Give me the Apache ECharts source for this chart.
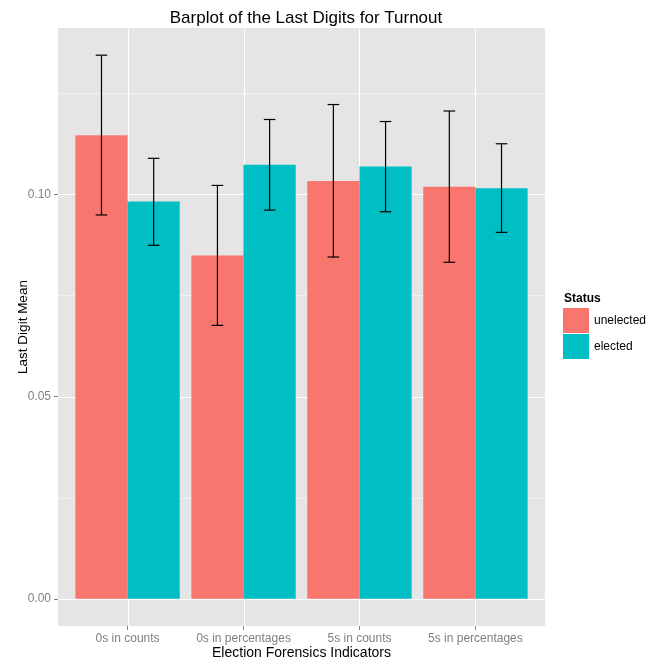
<!DOCTYPE html>
<html>
<head>
<meta charset="utf-8">
<script src="https://cdn.jsdelivr.net/npm/echarts@6/dist/echarts.min.js"></script>
<style>
  html, body { margin: 0; padding: 0; background: #ffffff; }
  #chart { width: 646px; height: 666px; }
</style>
</head>
<body>
<div id="chart"></div>
<script>
// Indicator groups along the x axis
const categories = ['0s in counts', '0s in percentages', '5s in counts', '5s in percentages'];

// Mean of last digits with lower / upper interval bounds, per status
const unelectedMean  = [0.1146, 0.0849, 0.1033, 0.1019];
const unelectedLower = [0.0949, 0.0676, 0.0845, 0.0832];
const unelectedUpper = [0.1344, 0.1022, 0.1222, 0.1206];

const electedMean  = [0.0982, 0.1073, 0.1069, 0.1015];
const electedLower = [0.0874, 0.0961, 0.0957, 0.0906];
const electedUpper = [0.1089, 0.1185, 0.1180, 0.1125];

// Axis breaks
const yMajorBreaks = [0, 0.05, 0.10];
const yMinorBreaks = [0.025, 0.075, 0.125];
const yTickLabels  = ['0.00', '0.05', '0.10'];

const BAR_W = 0.45;   // width of each dodged bar, in category units
const CAP_W = 0.1;    // width of the error bar caps
const X_MIN = 0.4, X_MAX = 4.6;
const Y_MIN = -0.00672, Y_MAX = 0.14112;

const catPositions = categories.map((c, i) => i + 1);

function toRows(mean, lower, upper) {
  return mean.map((m, i) => [catPositions[i], m, lower[i], upper[i]]);
}

function barRenderer(side, color) {
  return function (params, api) {
    const x = api.value(0), m = api.value(1), lo = api.value(2), hi = api.value(3);
    const left = side < 0 ? x - BAR_W : x;
    const pTop = api.coord([left, m]);
    const pBot = api.coord([left + BAR_W, 0]);
    const cx = left + BAR_W / 2;
    const top = api.coord([cx, hi]);
    const bot = api.coord([cx, lo]);
    const capL = api.coord([cx - CAP_W / 2, hi])[0];
    const capR = api.coord([cx + CAP_W / 2, hi])[0];
    const lineStyle = { stroke: '#000000', lineWidth: 1.2 };
    return {
      type: 'group',
      children: [
        { type: 'rect', shape: { x: pTop[0], y: pTop[1], width: pBot[0] - pTop[0], height: pBot[1] - pTop[1] },
          style: { fill: color } },
        { type: 'line', shape: { x1: top[0], y1: top[1], x2: bot[0], y2: bot[1] }, style: lineStyle, z2: 10 },
        { type: 'line', shape: { x1: capL, y1: top[1], x2: capR, y2: top[1] }, style: lineStyle, z2: 10 },
        { type: 'line', shape: { x1: capL, y1: bot[1], x2: capR, y2: bot[1] }, style: lineStyle, z2: 10 }
      ]
    };
  };
}

// Panel grid lines (minor horizontal, major horizontal, vertical at categories)
const gridRows = []
  .concat(yMinorBreaks.map(v => ['h', v, 0]))
  .concat(yMajorBreaks.map(v => ['h', v, 1]))
  .concat(catPositions.map(v => ['v', v, 1]));

function gridRenderer(params, api) {
  const row = gridRows[params.dataIndex];
  let a, b;
  if (row[0] === 'h') {
    a = api.coord([X_MIN, row[1]]); b = api.coord([X_MAX, row[1]]);
    const y = Math.round(a[1]) + 0.5;
    a[1] = y; b[1] = y;
  } else {
    a = api.coord([row[1], Y_MIN]); b = api.coord([row[1], Y_MAX]);
    const x = Math.round(a[0]) + 0.5;
    a[0] = x; b[0] = x;
  }
  return {
    type: 'line',
    shape: { x1: a[0], y1: a[1], x2: b[0], y2: b[1] },
    style: { stroke: row[2] ? '#ffffff' : 'rgba(255,255,255,0.45)', lineWidth: 1 }
  };
}

const chart = echarts.init(document.getElementById('chart'), null, { renderer: 'canvas' });

chart.setOption({
  animation: false,
  backgroundColor: '#ffffff',
  textStyle: { fontFamily: 'Liberation Sans, Arial, sans-serif' },
  title: [
    { text: 'Barplot of the Last Digits for Turnout', left: 301, top: 5, textAlign: 'center',
      textStyle: { fontSize: 17, fontWeight: 'normal', color: '#000000', fontFamily: 'Liberation Sans' } },
    { text: 'Status', left: 564, top: 293, padding: 0,
      textStyle: { fontSize: 12, fontWeight: 'bold', color: '#000000', fontFamily: 'Liberation Sans' } }
  ],
  legend: {
    data: ['unelected', 'elected'],
    orient: 'vertical',
    left: 563, top: 308, padding: 0,
    icon: 'rect',
    itemWidth: 26, itemHeight: 25, itemGap: 1,
    selectedMode: false,
    textStyle: { fontSize: 12, color: '#000000', fontFamily: 'Liberation Sans' }
  },
  grid: { left: 58, right: 101, top: 28, bottom: 40, show: true, backgroundColor: '#E5E5E5', borderWidth: 0,
    containLabel: false, outerBoundsMode: 'none' },
  xAxis: {
    type: 'value', min: X_MIN, max: X_MAX,
    name: 'Election Forensics Indicators', nameLocation: 'middle', nameGap: 20, nameMoveOverlap: false,
    nameTextStyle: { fontSize: 14, color: '#000000', fontFamily: 'Liberation Sans' },
    axisLine: { show: false, onZero: false },
    axisTick: { show: true, length: 4, customValues: catPositions, lineStyle: { color: '#7F7F7F' } },
    axisLabel: { customValues: catPositions, margin: 7, fontSize: 12, color: '#7F7F7F',
      fontFamily: 'Liberation Sans', formatter: v => categories[Math.round(v) - 1] || '' },
    splitLine: { show: false }
  },
  yAxis: {
    type: 'value', min: Y_MIN, max: Y_MAX,
    name: 'Last Digit Mean', nameLocation: 'middle', nameGap: 28, nameRotate: 90, nameMoveOverlap: false,
    nameTextStyle: { fontSize: 13.5, color: '#000000', fontFamily: 'Liberation Sans' },
    axisLine: { show: false, onZero: false },
    axisTick: { show: true, length: 4, customValues: yMajorBreaks, lineStyle: { color: '#7F7F7F' } },
    axisLabel: { customValues: yMajorBreaks, margin: 7, fontSize: 12, color: '#7F7F7F',
      fontFamily: 'Liberation Sans', formatter: v => yTickLabels[yMajorBreaks.findIndex(b => Math.abs(b - v) < 1e-9)] || '' },
    splitLine: { show: false }
  },
  series: [
    { type: 'custom', name: 'panel-grid', silent: true, z: 1, renderItem: gridRenderer,
      data: gridRows.map(() => [X_MIN, Y_MIN]), clip: true },
    { type: 'custom', name: 'unelected', z: 2, itemStyle: { color: '#F8766D' },
      encode: { x: 0, y: 1 }, renderItem: barRenderer(-1, '#F8766D'),
      data: toRows(unelectedMean, unelectedLower, unelectedUpper) },
    { type: 'custom', name: 'elected', z: 2, itemStyle: { color: '#00BFC4' },
      encode: { x: 0, y: 1 }, renderItem: barRenderer(1, '#00BFC4'),
      data: toRows(electedMean, electedLower, electedUpper) }
  ]
});
</script>
</body>
</html>
